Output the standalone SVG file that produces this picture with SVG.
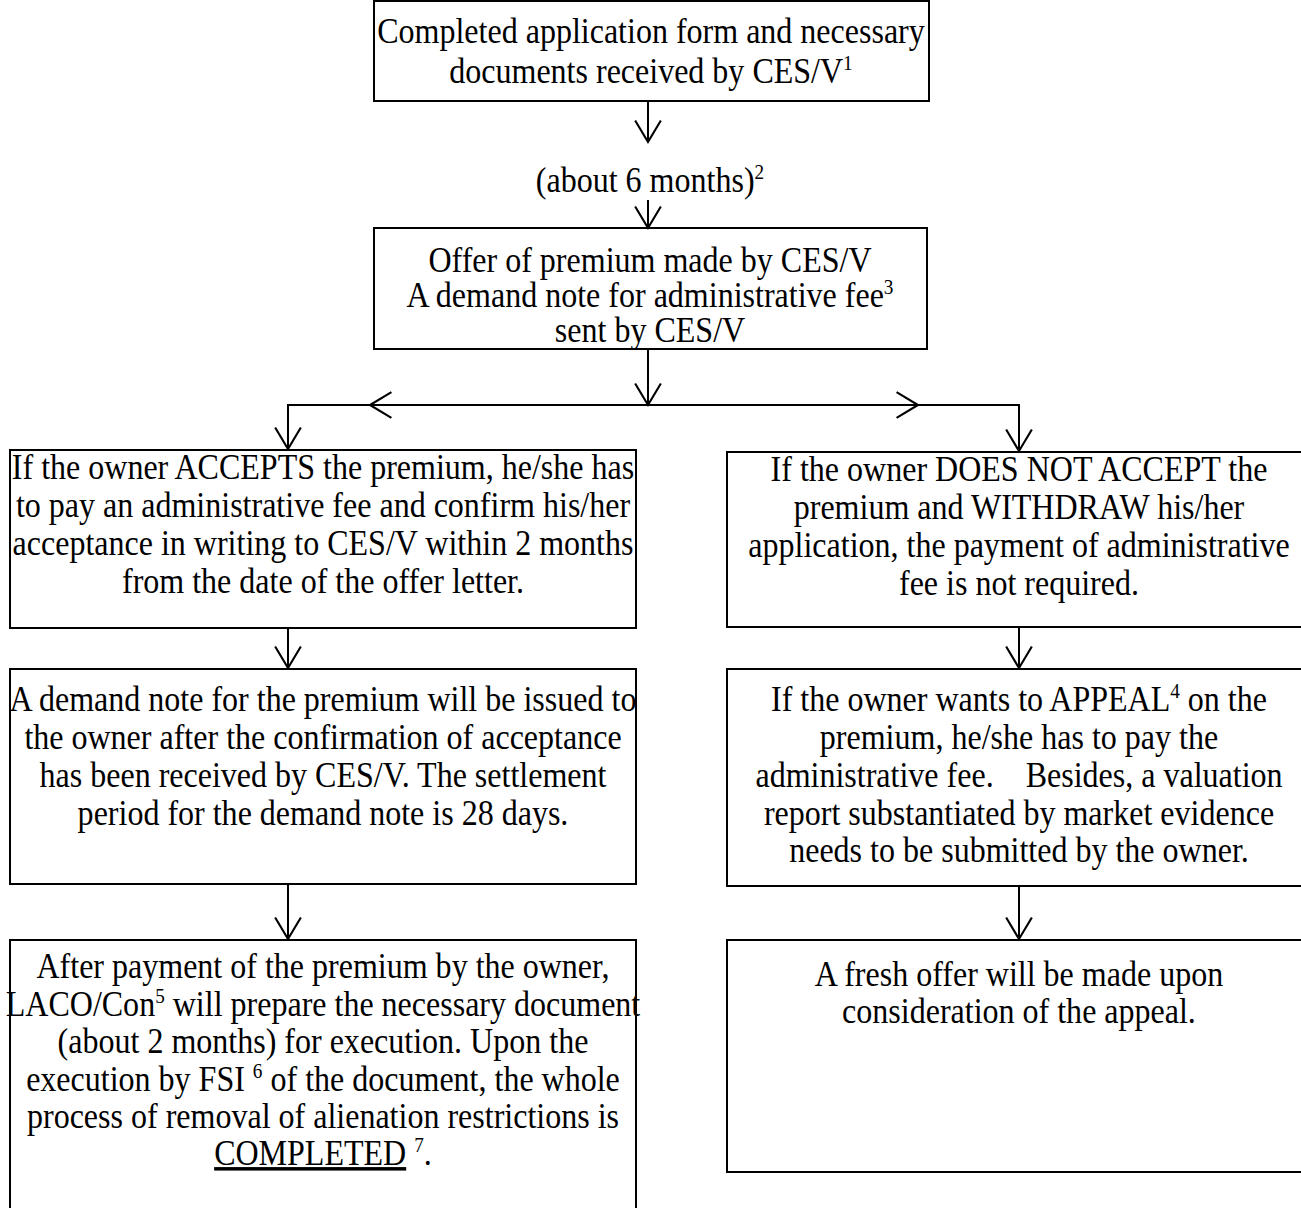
<svg xmlns="http://www.w3.org/2000/svg" width="1301" height="1208" viewBox="0 0 1301 1208">
<defs>
<style>
.box{fill:#fff;stroke:#000;stroke-width:2}
.t{font-family:"Liberation Serif","Times New Roman",serif;font-size:35px;fill:#000;text-anchor:middle}
.sup{font-size:21px}
.c{fill:none;stroke:#000;stroke-width:2}
</style>
<marker id="ah" markerUnits="userSpaceOnUse" markerWidth="30" markerHeight="30" viewBox="-22 -14 24 28" refX="0" refY="0" orient="auto" overflow="visible">
<path d="M-20,-12 L0,0 L-20,12" fill="none" stroke="#000" stroke-width="2"/>
</marker>
</defs>
<rect width="1301" height="1208" fill="#fff"/>
<g id="n1">
<rect class="box" x="374" y="1" width="555" height="100"/>
<g transform="translate(651,0) scale(0.915,1) translate(-651,0)">
<text class="t" x="651" y="43">Completed application form and necessary</text>
<text class="t" x="651" y="83">documents received by CES/V<tspan class="sup" dy="-13">1</tspan></text>
</g>
</g>
<g id="label-6months" transform="translate(650,0) scale(0.915,1) translate(-650,0)">
<text class="t" x="650" y="192">(about 6 months)<tspan class="sup" dy="-13">2</tspan></text>
</g>
<g id="n2">
<rect class="box" x="374" y="228" width="553" height="121"/>
<g transform="translate(650,0) scale(0.915,1) translate(-650,0)">
<text class="t" x="650" y="272">Offer of premium made by CES/V</text>
<text class="t" x="650" y="307">A demand note for administrative fee<tspan class="sup" dy="-13">3</tspan></text>
<text class="t" x="650" y="342">sent by CES/V</text>
</g>
</g>
<g id="n3">
<rect class="box" x="10" y="450" width="626" height="178"/>
<g transform="translate(323,0) scale(0.915,1) translate(-323,0)">
<text class="t" x="323" y="479">If the owner ACCEPTS the premium, he/she has</text>
<text class="t" x="323" y="517">to pay an administrative fee and confirm his/her</text>
<text class="t" x="323" y="555">acceptance in writing to CES/V within 2 months</text>
<text class="t" x="323" y="593">from the date of the offer letter.</text>
</g>
</g>
<g id="n4">
<rect class="box" x="727" y="452" width="580" height="175"/>
<g transform="translate(1019,0) scale(0.915,1) translate(-1019,0)">
<text class="t" x="1019" y="481">If the owner DOES NOT ACCEPT the</text>
<text class="t" x="1019" y="519">premium and WITHDRAW his/her</text>
<text class="t" x="1019" y="557">application, the payment of administrative</text>
<text class="t" x="1019" y="595">fee is not required.</text>
</g>
</g>
<g id="n5">
<rect class="box" x="10" y="669" width="626" height="215"/>
<g transform="translate(323,0) scale(0.915,1) translate(-323,0)">
<text class="t" x="323" y="711">A demand note for the premium will be issued to</text>
<text class="t" x="323" y="749">the owner after the confirmation of acceptance</text>
<text class="t" x="323" y="787">has been received by CES/V. The settlement</text>
<text class="t" x="323" y="825">period for the demand note is 28 days.</text>
</g>
</g>
<g id="n6">
<rect class="box" x="727" y="669" width="580" height="217"/>
<g transform="translate(1019,0) scale(0.915,1) translate(-1019,0)">
<text class="t" x="1019" y="711">If the owner wants to APPEAL<tspan class="sup" dy="-13">4</tspan><tspan dy="13"> on the</tspan></text>
<text class="t" x="1019" y="749">premium, he/she has to pay the</text>
<text class="t" x="1019" y="787" xml:space="preserve">administrative fee.    Besides, a valuation</text>
<text class="t" x="1019" y="825">report substantiated by market evidence</text>
<text class="t" x="1019" y="862">needs to be submitted by the owner.</text>
</g>
</g>
<g id="n7">
<rect class="box" x="10" y="940" width="626" height="290"/>
<g transform="translate(323,0) scale(0.915,1) translate(-323,0)">
<text class="t" x="323" y="978">After payment of the premium by the owner,</text>
<text class="t" x="323" y="1016">LACO/Con<tspan class="sup" dy="-13">5</tspan><tspan dy="13"> will prepare the necessary document</tspan></text>
<text class="t" x="323" y="1053">(about 2 months) for execution. Upon the</text>
<text class="t" x="323" y="1091">execution by FSI <tspan class="sup" dy="-13">6</tspan><tspan dy="13"> of the document, the whole</tspan></text>
<text class="t" x="323" y="1128">process of removal of alienation restrictions is</text>
<text class="t" x="323" y="1165"><tspan text-decoration="underline">COMPLETED</tspan> <tspan class="sup" dy="-13">7</tspan><tspan dy="13">.</tspan></text>
</g>
</g>
<g id="n8">
<rect class="box" x="727" y="940" width="580" height="232"/>
<g transform="translate(1019,0) scale(0.915,1) translate(-1019,0)">
<text class="t" x="1019" y="986">A fresh offer will be made upon</text>
<text class="t" x="1019" y="1023">consideration of the appeal.</text>
</g>
</g>
<g id="connectors">
<line class="c" x1="648" y1="101" x2="648" y2="142" marker-end="url(#ah)"/>
<line class="c" x1="648" y1="200" x2="648" y2="228" marker-end="url(#ah)"/>
<line class="c" x1="648" y1="349" x2="648" y2="405" marker-end="url(#ah)"/>
<line class="c" x1="648" y1="405" x2="370" y2="405" marker-end="url(#ah)"/>
<polyline class="c" points="370,405 288,405 288,449" marker-end="url(#ah)"/>
<line class="c" x1="648" y1="405" x2="918" y2="405" marker-end="url(#ah)"/>
<polyline class="c" points="918,405 1019,405 1019,451" marker-end="url(#ah)"/>
<line class="c" x1="288" y1="628" x2="288" y2="668" marker-end="url(#ah)"/>
<line class="c" x1="1019" y1="627" x2="1019" y2="668" marker-end="url(#ah)"/>
<line class="c" x1="288" y1="884" x2="288" y2="939" marker-end="url(#ah)"/>
<line class="c" x1="1019" y1="886" x2="1019" y2="939" marker-end="url(#ah)"/>
</g>
</svg>
